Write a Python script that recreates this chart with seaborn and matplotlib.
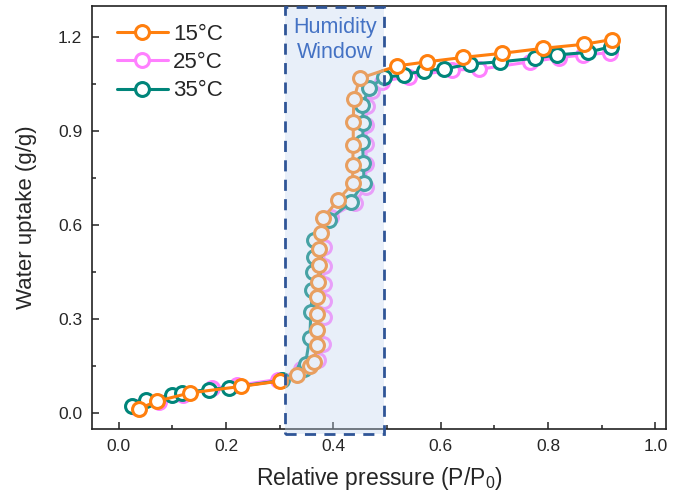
import matplotlib
matplotlib.use("Agg")
import matplotlib.pyplot as plt
import seaborn as sns
import pandas as pd
from matplotlib.patches import Rectangle
from matplotlib.ticker import MultipleLocator

# ---- data ----
p15 = [0.037, 0.072, 0.132, 0.228, 0.300, 0.333, 0.356, 0.364, 0.369, 0.370, 0.370, 0.370,
       0.372, 0.373, 0.374, 0.376, 0.381, 0.408, 0.436, 0.436, 0.437, 0.437, 0.438, 0.449,
       0.519, 0.575, 0.642, 0.714, 0.791, 0.868, 0.919]
u15 = [0.015, 0.039, 0.065, 0.086, 0.103, 0.121, 0.150, 0.164, 0.217, 0.265, 0.318, 0.372,
       0.420, 0.473, 0.523, 0.574, 0.622, 0.680, 0.734, 0.792, 0.858, 0.930, 1.002, 1.069,
       1.109, 1.122, 1.136, 1.149, 1.165, 1.178, 1.193]

p25 = [0.030, 0.074, 0.120, 0.174, 0.220, 0.296, 0.340, 0.372, 0.380, 0.382, 0.382, 0.382,
       0.382, 0.383, 0.395, 0.440, 0.460, 0.461, 0.461, 0.461, 0.462, 0.472, 0.490, 0.540,
       0.621, 0.672, 0.767, 0.820, 0.866, 0.916]
u25 = [0.020, 0.036, 0.060, 0.080, 0.089, 0.108, 0.140, 0.170, 0.222, 0.307, 0.360, 0.413,
       0.470, 0.531, 0.627, 0.670, 0.723, 0.797, 0.860, 0.920, 0.980, 1.030, 1.059, 1.075,
       1.096, 1.098, 1.122, 1.135, 1.144, 1.151]

p35 = [0.024, 0.050, 0.099, 0.117, 0.168, 0.205, 0.305, 0.345, 0.348, 0.356, 0.358, 0.361,
       0.362, 0.363, 0.364, 0.392, 0.432, 0.457, 0.456, 0.454, 0.456, 0.454, 0.466, 0.494,
       0.531, 0.569, 0.606, 0.655, 0.711, 0.775, 0.817, 0.874, 0.917]
u35 = [0.022, 0.042, 0.058, 0.065, 0.076, 0.082, 0.105, 0.143, 0.159, 0.242, 0.324, 0.393,
       0.450, 0.500, 0.553, 0.617, 0.675, 0.736, 0.798, 0.867, 0.926, 0.984, 1.037, 1.072,
       1.080, 1.094, 1.099, 1.115, 1.122, 1.133, 1.144, 1.152, 1.170]

labels = ["15°C", "25°C", "35°C"]
colors = {"15°C": "#FF7F0E", "25°C": "#FF80FF", "35°C": "#00857A"}
window = (0.31, 0.495)

series = {"15°C": (p15, u15), "25°C": (p25, u25), "35°C": (p35, u35)}

sns.set_theme(style="ticks")
plt.rcParams["font.family"] = ["Liberation Sans", "DejaVu Sans"]
plt.rcParams["mathtext.fontset"] = "custom"
plt.rcParams["mathtext.rm"] = "Liberation Sans"

fig = plt.figure(figsize=(6.75, 5.01), dpi=100)
ax = fig.add_axes([0.1363, 0.1437, 0.8504, 0.8443])

handles = {}
for lab in ["25°C", "35°C", "15°C"]:
    x, y = series[lab]
    df = pd.DataFrame({"p": x, "u": y})
    sns.lineplot(data=df, x="p", y="u", ax=ax, sort=False, estimator=None,
                 color=colors[lab],
                 marker="o", markersize=10, markerfacecolor="white",
                 markeredgecolor=colors[lab], markeredgewidth=2.2,
                 linewidth=2.2, zorder=3)
    handles[lab] = ax.lines[-1]

# humidity window (translucent fill drawn over the data, dashed border)
y0, y1 = -0.067, 1.297
ax.add_patch(Rectangle((window[0], y0), window[1] - window[0], y1 - y0,
                       facecolor="#C1D6EF", alpha=0.37, edgecolor="none",
                       clip_on=False, zorder=4))
ax.add_patch(Rectangle((window[0], y0), window[1] - window[0], y1 - y0,
                       facecolor="none", edgecolor="#2F5597", linestyle=(0, (4, 3)),
                       linewidth=2, clip_on=False, zorder=5))
ax.text((window[0] + window[1]) / 2, 1.19, "Humidity\nWindow", color="#4472C4",
        ha="center", va="center", fontsize=15.5, linespacing=1.25, zorder=6)

ax.legend([handles[l] for l in labels], labels, loc="upper left", frameon=False,
          fontsize=16, handlelength=2.3, borderaxespad=0.4, labelspacing=0.33,
          handletextpad=0.25, bbox_to_anchor=(0.012, 1.0))

ax.set_xlim(-0.05, 1.02)
ax.set_ylim(-0.05, 1.30)
ax.xaxis.set_major_locator(MultipleLocator(0.2))
ax.xaxis.set_minor_locator(MultipleLocator(0.1))
ax.yaxis.set_major_locator(MultipleLocator(0.3))
ax.yaxis.set_minor_locator(MultipleLocator(0.15))
ax.tick_params(which="both", direction="in", labelsize=12.5, width=1.1, color="#222222",
               pad=7)
ax.tick_params(which="major", length=5)
ax.tick_params(which="minor", length=3)
for s in ax.spines.values():
    s.set_linewidth(1.2)
    s.set_color("#222222")
ax.set_xlabel("Relative pressure (P/P$_\\mathregular{0}$)", fontsize=16.5, labelpad=8)
ax.set_ylabel("Water uptake (g/g)", fontsize=16, labelpad=15)

fig.savefig("out.png", dpi=100)
